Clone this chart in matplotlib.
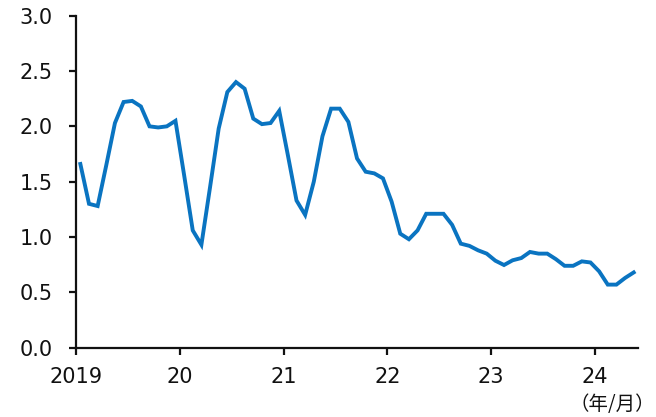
import matplotlib
matplotlib.use("Agg")
import matplotlib.pyplot as plt
import numpy as np

# Monthly series, Jan 2019 .. May 2024
values = [
    1.66, 1.30, 1.28, 1.65, 2.03, 2.22, 2.23, 2.18, 2.00, 1.99, 2.00, 2.05,  # 2019
    1.56, 1.06, 0.93, 1.45, 1.98, 2.31, 2.40, 2.34, 2.07, 2.02, 2.03, 2.14,  # 2020
    1.74, 1.33, 1.20, 1.50, 1.91, 2.16, 2.16, 2.04, 1.71, 1.59, 1.575, 1.53,  # 2021
    1.32, 1.03, 0.98, 1.06, 1.21, 1.21, 1.21, 1.11, 0.94, 0.92, 0.88, 0.85,  # 2022
    0.786, 0.747, 0.79, 0.81, 0.865, 0.85, 0.85, 0.80, 0.74, 0.74, 0.78, 0.77,  # 2023
    0.69, 0.57, 0.57, 0.63, 0.68,  # 2024
]
year_labels = ["2019", "20", "21", "22", "23", "24"]
y_ticks = [0.0, 0.5, 1.0, 1.5, 2.0, 2.5, 3.0]

plt.rcParams["font.family"] = ["DejaVu Sans"]

fig = plt.figure(figsize=(6.56, 4.17), dpi=100)
ax = fig.add_axes([0.1159, 0.1662, 0.8567, 0.7962])

x = np.arange(len(values))
ax.plot(x, values, color="#0a74c1", lw=2.8, solid_joinstyle="miter")

ax.set_xlim(-0.5, len(values) - 0.5)
ax.set_ylim(0, 3.0)
ax.set_yticks(y_ticks)
ax.set_yticklabels([f"{v:.1f}" for v in y_ticks])
ax.set_xticks([-0.5 + 12 * k for k in range(len(year_labels))])
ax.set_xticklabels(year_labels)

for side in ("top", "right"):
    ax.spines[side].set_visible(False)
for side in ("left", "bottom"):
    ax.spines[side].set_linewidth(1.6)
    ax.spines[side].set_color("#111111")

ax.tick_params(axis="y", direction="out", length=5, width=1.6, pad=12,
               labelsize=15, colors="#111111")
ax.tick_params(axis="x", direction="out", length=5, width=1.6, pad=9,
               labelsize=15, colors="#111111")

fig.text(0.999, 0.005, "（年/月）", fontsize=14, color="#111111",
         family=["Noto Sans CJK JP", "DejaVu Sans"], ha="right", va="bottom")

fig.savefig("out.png", dpi=100)
